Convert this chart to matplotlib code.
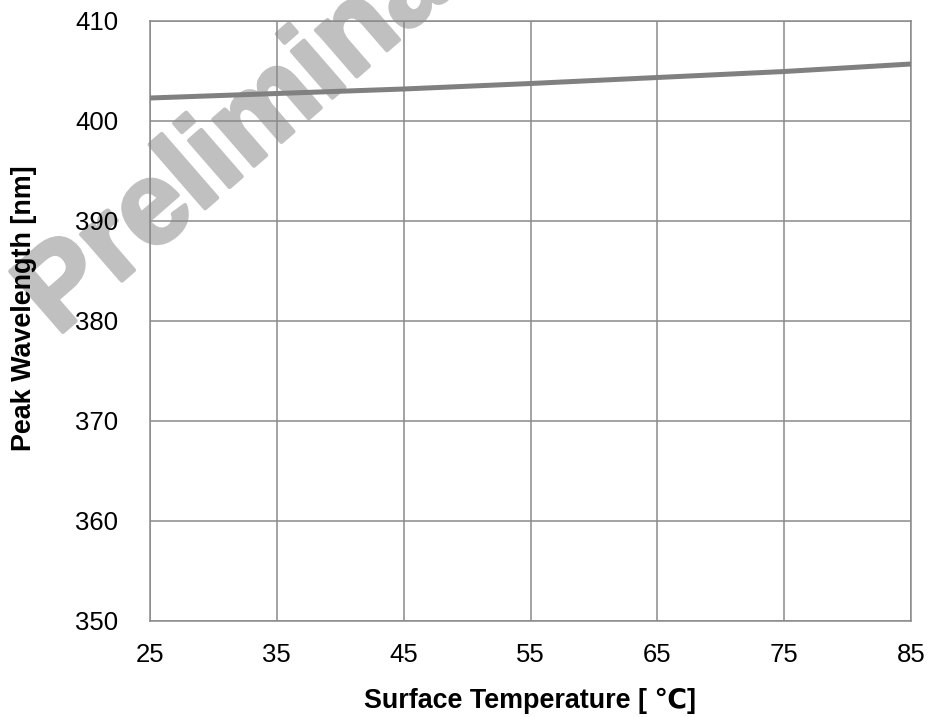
import matplotlib
matplotlib.use('Agg')
import matplotlib.pyplot as plt
import matplotlib.patheffects as pe

# surface temperature [C] and peak wavelength [nm]
temp = [25, 35, 45, 55, 65, 75, 85]
peak_wl = [402.3, 402.75, 403.2, 403.75, 404.35, 404.95, 405.7]

x_ticks = [25, 35, 45, 55, 65, 75, 85]
y_ticks = [350, 360, 370, 380, 390, 400, 410]

plt.rcParams['font.family'] = ['Liberation Sans', 'DejaVu Sans']

fig = plt.figure(figsize=(9.29, 7.17), dpi=100)
ax = fig.add_axes([150 / 929, 1 - 621 / 717, 761 / 929, 600 / 717])

ax.plot(temp, peak_wl, color='#808080', linewidth=3.6, solid_capstyle='butt', zorder=3)

ax.set_xlim(25, 85)
ax.set_ylim(350, 410)
ax.set_xticks(x_ticks)
ax.set_yticks(y_ticks)
ax.grid(True, color='#8a8a8a', linewidth=1.1)
ax.set_axisbelow(False)
for s in ax.spines.values():
    s.set_color('#8a8a8a')
    s.set_linewidth(1.1)
ax.tick_params(length=0, labelsize=18.5, colors='black')
ax.tick_params(axis='x', pad=15.5)
ax.tick_params(axis='y', pad=23)

ax.set_xlabel('Surface Temperature [ \u2103]', fontsize=19.4, fontweight='bold')
ax.set_ylabel('Peak Wavelength [nm]', fontsize=19.4, fontweight='bold')
ax.xaxis.set_label_coords(0.5, -0.112)
ax.yaxis.set_label_coords(-0.1485, 0.522)

# watermark, sits under grid and text
wm = ax.text(57 / 929, 1 - 337 / 717, 'Preliminary', transform=fig.transFigure,
             fontsize=84, fontweight='bold', color='#c0c0c0', rotation=41,
             rotation_mode='anchor', ha='left', va='baseline', clip_on=False, zorder=1)
wm.set_path_effects([pe.withStroke(linewidth=3, foreground='#c0c0c0')])

fig.savefig('out.png', dpi=100)
